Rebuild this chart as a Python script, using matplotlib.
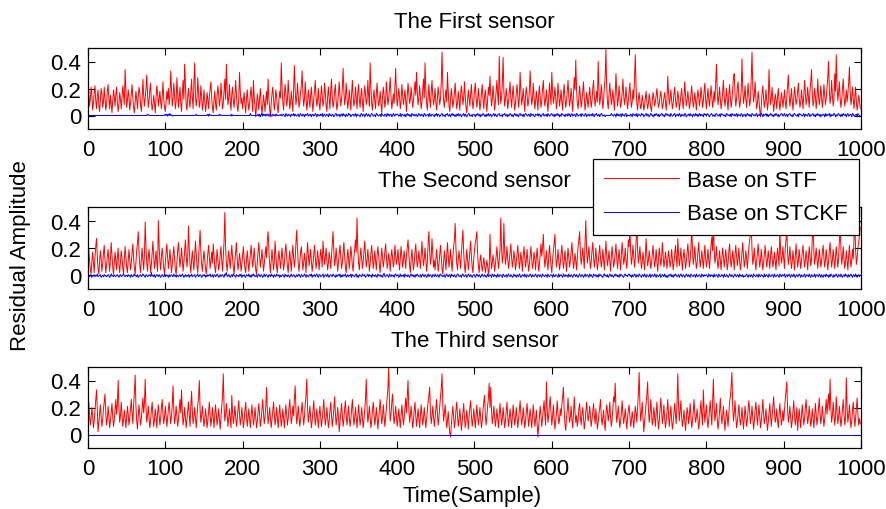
import numpy as np
import matplotlib
matplotlib.use("Agg")
import matplotlib.pyplot as plt

plt.rcParams['font.family'] = ['Liberation Sans', 'DejaVu Sans']

titles = ["The First sensor", "The Second sensor", "The Third sensor"]
legend_labels = ["Base on STF", "Base on STCKF"]
x_label = "Time(Sample)"
y_label = "Residual Amplitude"
xticks = [0, 100, 200, 300, 400, 500, 600, 700, 800, 900, 1000]
yticks = [0, 0.2, 0.4]
ytick_labels = ["0", "0.2", "0.4"]

# residual amplitude of the STF filter, sensor 1
red1 = [
.26,.18,.07,.12,.21,.15,.04,.09,.17,.22,.11,.05,.14,.19,.08,.03,.12,.20,.16,.06,
.10,.21,.13,.04,.08,.18,.23,.12,.05,.15,.09,.02,.11,.19,.14,.07,.16,.21,.10,.03,
.08,.17,.12,.05,.13,.22,.15,.08,.34,.20,
.06,.11,.19,.14,.04,.09,.16,.23,.13,.06,.02,.10,.18,.12,.05,.14,.21,.17,.08,.03,
.12,.27,.15,.07,.13,.20,.30,.16,.06,.11,.19,.24,.10,.04,.08,.15,.09,.02,.13,.22,
.17,.07,.12,.18,.10,.05,.14,.25,.12,.06,
.03,.09,.18,.12,.20,.08,.15,.33,.19,.07,.12,.24,.14,.05,.10,.28,.17,.06,.13,.21,
.09,.03,.16,.26,.12,.38,.22,.08,.04,.14,.20,.11,.06,.18,.27,.13,.05,.24,.39,.15,
.07,.12,.28,.17,.06,.10,.22,.14,.04,.09,
.19,.11,.03,.08,.17,.12,.05,.14,.20,.25,.13,.06,.02,.11,.18,.09,.04,.15,.22,.16,
.07,.12,.24,.14,.05,.09,.18,.27,.12,.38,.20,.08,.13,.23,.10,.04,.16,.21,.11,.06,
.14,.26,.15,.07,.03,.12,.32,.18,.09,.13,
.05,.11,.17,.08,.02,.13,.19,.10,.04,.09,.15,.21,.12,.03,.26,.14,.06,-.01,.08,.16,
.11,.04,.13,.20,.09,.01,.07,.15,.10,.03,.12,.18,.08,.27,.13,.05,-.01,.09,.16,.21,
.12,.04,.10,.19,.14,.06,.02,.11,.18,.13,
.39,.22,.10,.04,.14,.23,.16,.07,.12,.26,.15,.05,.09,.18,.11,.03,.20,.37,.19,.08,
.13,.24,.15,.06,.10,.17,.22,.33,.16,.07,.12,.25,.14,.04,.09,.19,.13,.06,.15,.21,
.10,.03,.12,.18,.26,.14,.07,.11,.20,.09,
.04,.13,.22,.15,.07,.11,.24,.17,.08,.03,.14,.21,.12,.05,.19,.27,.13,.06,.10,.18,
.23,.11,.04,.09,.16,.25,.14,.07,.12,.20,.35,.18,.08,.13,.24,.15,.05,.10,.19,.12,
.04,.16,.26,.14,.07,.11,.21,.13,.05,.17,
.23,.12,.06,.15,.20,.10,.03,.14,.22,.16,.08,.12,.26,.15,.07,.39,.21,.09,.04,.13,
.19,.11,.05,.16,.24,.13,.07,.11,.18,.09,.02,.14,.21,.15,.06,.10,.25,.17,.08,.12,
.20,.28,.14,.05,.10,.16,.09,.21,.35,.17,
.07,.12,.20,.14,.05,.10,.23,.16,.08,.13,.19,.11,.03,.15,.24,.17,.09,.12,.21,.13,
.06,.11,.18,.25,.15,.32,.17,.08,.13,.22,.14,.05,.10,.19,.27,.13,.39,.20,.09,.04,
.14,.23,.12,.06,.17,.26,.15,.08,.12,.20,
.10,.04,.13,.21,.15,.08,.12,.25,.47,.22,.11,.06,.14,.19,.10,.32,.18,.07,.03,.12,
.20,.14,.06,.10,.17,.24,.13,.05,.09,.18,.12,.04,.15,.22,.16,.08,.13,.25,.14,.06,
.02,.11,.19,.13,.07,.16,.23,.12,.05,.10,
.18,.24,.14,.06,.11,.20,.13,.04,.09,.17,.23,.12,.05,.14,.19,.10,.03,.12,.21,.15,
.29,.16,.07,.12,.22,.14,.04,.10,.18,.26,.15,.08,.44,.20,.09,.13,.24,.43,.18,.07,
.12,.20,.14,.05,.10,.17,.25,.13,.06,.15,
.22,.12,.04,.09,.16,.23,.14,.06,.13,.32,.18,.08,.12,.20,.11,.03,.14,.21,.15,.07,
.10,.19,.33,.17,.08,.12,.24,.14,.05,.10,.18,.12,.04,.15,.22,.13,.06,.11,.20,.26,
.14,.07,.12,.19,.10,.03,.13,.24,.16,.08,
.32,.18,.09,.13,.21,.14,.05,.11,.24,.15,.07,.12,.19,.10,.04,.16,.23,.13,.06,.10,
.18,.26,.14,.07,.12,.20,.11,.03,.15,.28,.19,.41,.20,.09,.05,.13,.22,.14,.06,.11,
.18,.25,.13,.04,.09,.17,.12,.06,.14,.21,
.13,.06,.11,.20,.26,.14,.07,.12,.18,.10,.40,.19,.08,.13,.23,.15,.05,.11,.21,.28,
.49,.22,.10,.05,.14,.24,.16,.08,.12,.19,.11,.04,.15,.31,.18,.07,.12,.22,.14,.06,
.10,.17,.27,.15,.08,.13,.21,.12,.05,.11,
.18,.24,.13,.06,.10,.19,.12,.27,.45,.21,.09,.04,.12,.17,.10,.05,.08,.15,.11,.04,
.07,.13,.18,.10,.05,.09,.16,.12,.06,.03,.11,.17,.13,.07,.10,.15,.20,.12,.06,.09,
.14,.18,.11,.05,.08,.13,.17,.10,.04,.12,
.29,.17,.08,.12,.19,.11,.05,.09,.16,.21,.12,.06,.10,.18,.13,.04,.09,.15,.20,.11,
.05,.14,.25,.15,.07,.11,.18,.12,.05,.09,.16,.22,.13,.06,.10,.17,.11,.04,.13,.19,
.14,.07,.12,.21,.15,.06,.10,.18,.24,.12,
.05,.13,.20,.12,.07,.15,.22,.14,.06,.11,.18,.10,.24,.38,.19,.08,.13,.21,.12,.05,
.10,.17,.26,.14,.07,.12,.20,.11,.04,.15,.23,.13,.06,.11,.19,.28,.31,.16,.07,.12,
.21,.25,.13,.06,.10,.18,.42,.20,.09,.14,
.22,.12,.06,.15,.24,.14,.07,.12,.28,.47,.21,.10,.15,.25,.13,.05,.09,.18,.12,.04,
-.01,.08,.16,.22,.13,.06,.11,.19,.12,.04,.10,.34,.18,.08,.13,.21,.11,.03,.09,.16,
.12,.05,.14,.20,.11,.04,.09,.17,.13,.06,
.12,.19,.10,.05,.14,.22,.30,.16,.07,.12,.20,.11,.04,.13,.21,.15,.08,.11,.18,.24,
.13,.06,.10,.19,.12,.05,.15,.26,.17,.08,.12,.21,.13,.06,.18,.25,.34,.16,.07,.11,
.20,.14,.05,.12,.27,.15,.08,.13,.22,.14,
.06,.12,.23,.15,.08,.13,.20,.28,.40,.19,.09,.14,.26,.15,.07,.12,.31,.18,.45,.22,
.11,.17,.25,.13,.06,.11,.20,.27,.14,.07,.12,.19,.10,.16,.24,.36,.18,.08,.13,.21,
.12,.05,.14,.21,.10,.04,.09,.15,.11,.05,
]

# residual amplitude of the STF filter, sensor 2
red2 = [
.08,.19,.12,.04,.01,.10,.17,.09,.02,.13,.21,.27,.14,.05,.01,.09,.18,.12,.03,.08,
.16,.22,.11,.02,.07,.14,.19,.10,.03,.12,.24,.15,.06,.01,.09,.17,.11,.04,.13,.20,
.08,.02,.10,.18,.13,.05,.01,.12,.21,.14,
.06,.02,.11,.19,.12,.04,.09,.16,.23,.13,.05,.01,.10,.18,.24,.32,.17,.07,.02,.12,
.20,.11,.04,.15,.39,.21,.09,.03,.13,.19,.10,.02,.08,.16,.25,.14,.05,.11,.18,.09,
.03,.40,.22,.10,.04,.14,.20,.12,.05,.01,
.09,.17,.23,.13,.05,.11,.19,.10,.02,.08,.15,.21,.12,.04,.01,.10,.18,.24,.14,.06,
.12,.20,.11,.03,.09,.17,.26,.15,.06,.13,.36,.19,.08,.02,.11,.18,.10,.04,.14,.25,
.16,.07,.02,.12,.21,.33,.17,.08,.03,.10,
.18,.12,.05,.01,.09,.16,.22,.13,.05,.11,.17,.09,.23,.14,.06,.02,.10,.19,.12,.04,
.08,.15,.21,.11,.03,.13,.25,.46,.20,.09,.03,.11,.18,.12,.05,.14,.22,.13,.06,.01,
.10,.17,.24,.12,.04,.09,.16,.11,.03,.08,
.15,.21,.12,.05,.02,.11,.18,.10,.03,.09,.16,.22,.13,.06,.12,.20,.11,.04,.01,.10,
.17,.24,.14,.06,.11,.19,.12,.03,.08,.15,.21,.13,.26,.32,.18,.08,.02,.11,.19,.12,
.04,.10,.25,.15,.06,.02,.12,.18,.11,.05,
.13,.20,.12,.04,.09,.17,.23,.14,.06,.02,.11,.18,.10,.03,.14,.22,.13,.06,.12,.24,
.33,.19,.08,.03,.10,.17,.21,.12,.04,.09,.16,.11,.02,.13,.24,.15,.07,.12,.19,.10,
.03,.08,.15,.22,.13,.05,.10,.18,.12,.04,
.11,.19,.14,.06,.25,.16,.08,.13,.20,.11,.04,.09,.17,.12,.05,.14,.23,.32,.18,.07,
.12,.20,.11,.03,.10,.16,.22,.13,.05,.09,.17,.24,.14,.06,.02,.11,.19,.13,.05,.12,
.21,.15,.07,.03,.13,.19,.26,.17,.42,.20,
.09,.04,.13,.20,.12,.05,.10,.18,.25,.14,.06,.11,.19,.12,.03,.08,.16,.22,.13,.05,
.10,.18,.11,.04,.14,.21,.15,.07,.02,.12,.20,.13,.06,.11,.17,.23,.14,.05,.09,.16,
.11,.03,.13,.19,.12,.06,.10,.22,.15,.08,
.12,.19,.10,.04,.13,.21,.14,.06,.11,.18,.12,.05,.15,.20,.26,.16,.07,.02,.12,.19,
.11,.04,.09,.17,.23,.13,.06,.10,.18,.12,.05,.14,.25,.15,.07,.12,.20,.11,.03,.09,
.24,.32,.18,.08,.13,.27,.16,.06,.11,.04,
.12,.19,.11,.03,.08,.15,.22,.13,.05,.01,.10,.18,.12,.04,.14,.24,.15,.06,.11,.19,
.10,.03,.13,.21,.26,.38,.20,.09,.04,.12,.18,.11,.05,.16,.24,.33,.17,.07,.02,.11,
.19,.12,.04,.10,.17,.25,.14,.06,.02,.12,
.18,.24,.27,.32,.16,.07,.02,.10,.15,.09,.03,.07,.13,.08,.02,.06,.11,.07,.01,.05,
.30,.14,.05,.09,.15,.10,.03,.08,.14,.21,.12,.05,.11,.19,.42,.20,.09,.14,.38,.18,
.08,.13,.21,.12,.05,.10,.17,.23,.13,.06,
.11,.18,.12,.04,.09,.16,.22,.13,.05,.10,.17,.11,.03,.14,.21,.13,.06,.11,.19,.10,
.03,.08,.15,.21,.12,.05,.09,.17,.12,.04,.13,.20,.11,.03,.08,.16,.23,.14,.20,.30,
.15,.06,.11,.18,.10,.04,.13,.22,.14,.07,
.02,.11,.18,.23,.30,.15,.06,.11,.19,.12,.04,.09,.16,.22,.13,.05,.10,.18,.11,.03,
.12,.20,.13,.06,.11,.17,.24,.14,.05,.09,.16,.11,.04,.13,.21,.26,.32,.17,.08,.13,
.20,.12,.05,.24,.40,.19,.09,.14,.21,.12,
.05,.10,.18,.24,.14,.06,.12,.20,.11,.04,.09,.16,.22,.13,.06,.11,.19,.12,.04,.14,
.25,.15,.07,.12,.18,.10,.03,.13,.21,.14,.06,.10,.17,.23,.13,.05,.11,.19,.12,.04,
.15,.24,.16,.08,.12,.20,.11,.05,.14,.26,
.21,.36,.18,.08,.13,.22,.14,.06,.12,.25,.38,.19,.09,.14,.21,.12,.05,.10,.17,.11,
.04,.13,.27,.15,.07,.11,.18,.12,.05,.09,.16,.22,.13,.06,.11,.19,.10,.03,.12,.20,
.14,.07,.12,.24,.15,.06,.10,.17,.12,.05,
.11,.18,.13,.06,.10,.19,.12,.04,.09,.16,.22,.13,.06,.27,.16,.07,.12,.20,.11,.04,
.13,.19,.12,.05,.10,.17,.23,.14,.06,.11,.20,.36,.19,.08,.13,.21,.12,.05,.09,.16,
.24,.14,.06,.11,.18,.12,.05,.14,.22,.13,
.06,.11,.19,.12,.05,.14,.22,.28,.18,.40,.20,.09,.13,.21,.12,.05,.10,.18,.11,.04,
.13,.20,.14,.06,.12,.19,.11,.04,.09,.17,.23,.13,.06,.11,.18,.12,.04,.15,.22,.14,
.07,.12,.20,.11,.04,.09,.16,.24,.14,.06,
.11,.18,.12,.05,.13,.21,.26,.30,.37,.19,.08,.12,.20,.11,.04,.10,.17,.23,.13,.06,
.11,.19,.12,.04,.09,.16,.22,.13,.06,.11,.18,.12,.05,.14,.21,.13,.06,.10,.17,.11,
.04,.13,.20,.14,.07,.34,.18,.09,.13,.21,
.12,.05,.20,.26,.33,.17,.08,.13,.21,.12,.05,.10,.18,.11,.04,.14,.23,.14,.06,.11,
.19,.12,.05,.10,.17,.22,.13,.06,.11,.18,.12,.04,.13,.21,.14,.07,.12,.28,.35,.18,
.08,.13,.20,.12,.05,.11,.19,.13,.06,.10,
.17,.22,.13,.06,.11,.19,.12,.04,.10,.18,.24,.14,.06,.11,.19,.12,.05,.13,.21,.14,
.06,.12,.25,.38,.19,.08,.13,.21,.12,.05,.10,.18,.11,.04,.14,.22,.13,.06,.11,.19,
.12,.28,.40,.19,.08,.13,.20,.24,.29,.35,
]

# residual amplitude of the STF filter, sensor 3
red3 = [
.17,.24,.15,.07,.12,.20,.14,.05,.10,.18,.25,.33,.19,.02,.09,.16,.22,.13,.06,.11,
.19,.24,.30,.16,.07,.12,.21,.14,.05,.10,.17,.23,.13,.06,.11,.19,.26,.15,.22,.40,
.20,.09,.14,.24,.15,.06,.11,.18,.12,.05,
.13,.21,.15,.07,.12,.19,.26,.16,.08,.22,.31,.44,.21,.10,.04,.14,.22,.15,.07,.12,
.20,.27,.16,.23,.41,.20,.09,.14,.21,.13,.05,.10,.18,.24,.14,.06,.11,.19,.13,.05,
.15,.22,.14,.07,.12,.20,.26,.15,.08,.13,
.21,.14,.06,.12,.19,.24,.15,.08,.14,.22,.36,.18,.08,.13,.21,.14,.06,.11,.19,.26,
.16,.33,.17,.07,.12,.20,.13,.05,.11,.18,.24,.14,.06,.21,.32,.17,.08,.13,.20,.12,
.05,.14,.22,.27,.40,.19,.09,.14,.21,.13,
.06,.11,.19,.13,.05,.10,.17,.24,.14,.06,.12,.20,.13,.05,.15,.22,.14,.07,.12,.19,
.11,.04,.13,.21,.28,.45,.21,.10,.15,.23,.14,.06,.12,.19,.12,.05,.29,.17,.08,.13,
.21,.14,.06,.11,.18,.25,.15,.07,.12,.20,
.13,.05,.10,.18,.24,.14,.06,.12,.19,.12,.05,.14,.22,.15,.07,.12,.20,.13,.05,.10,
.17,.23,.14,.06,.11,.19,.26,.16,.08,.13,.21,.35,.18,.08,.13,.20,.12,.05,.11,.18,
.24,.15,.07,.12,.20,.13,.05,.14,.22,.14,
.06,.11,.19,.12,.05,.14,.22,.15,.07,.12,.20,.26,.16,.08,.13,.21,.14,.26,.36,.19,
.08,.13,.21,.14,.06,.11,.18,.24,.15,.07,.13,.22,.29,.41,.20,.09,.14,.21,.13,.05,
.10,.18,.25,.15,.07,.12,.19,.12,.05,.14,
.21,.14,.06,.11,.19,.26,.15,.07,.12,.20,.13,.05,.10,.17,.24,.14,.06,.12,.19,.28,
.16,.07,.12,.20,.13,.02,.09,.17,.23,.14,.06,.11,.19,.25,.15,.07,.13,.21,.14,.06,
.11,.18,.26,.15,.07,.12,.20,.13,.05,.14,
.22,.15,.07,.12,.20,.13,.05,.11,.19,.26,.41,.20,.09,.14,.21,.13,.05,.10,.18,.24,
.15,.07,.12,.20,.13,.04,.11,.19,.26,.16,.08,.13,.22,.14,.06,.12,.20,.27,.34,.49,
.22,.10,.15,.24,.30,.17,.08,.13,.21,.14,
.06,.12,.19,.12,.05,.14,.22,.15,.07,.12,.20,.27,.16,.28,.40,.20,.09,.14,.21,.13,
.05,.10,.18,.24,.14,.06,.12,.19,.12,.05,.14,.22,.15,.07,.12,.20,.13,.05,.11,.18,
.24,.29,.35,.17,.08,.13,.21,.14,.06,.12,
.19,.26,.15,.07,.13,.21,.28,.34,.45,.22,.10,.15,.22,.13,.05,.10,.17,.08,.01,-.02,
.07,.14,.21,.13,.05,.10,.18,.24,.14,.06,.11,.19,.12,.03,.09,.16,.23,.13,.05,.10,
.18,.12,.04,.13,.20,.25,.14,.06,.11,.19,
.12,.05,.14,.22,.15,.07,.12,.20,.13,.05,.10,.18,.24,.29,.15,.07,.13,.21,.27,.38,
.20,.35,.18,.08,.13,.21,.14,.06,.11,.19,.12,.05,.14,.23,.15,.07,.12,.20,.13,.05,
.10,.17,.24,.14,.06,.12,.19,.12,.05,.14,
.22,.15,.07,.12,.20,.13,.05,.11,.18,.25,.15,.07,.12,.20,.13,.05,.10,.17,.23,.14,
.06,.12,.19,.12,.05,.14,.22,.14,.06,.11,.18,.09,-.02,.06,.13,.21,.14,.06,.12,.19,
.25,.15,.07,.39,.20,.09,.14,.22,.28,.16,
.07,.13,.22,.12,.04,.10,.16,.25,.15,.08,.11,.19,.14,.22,.28,.35,.18,.08,.03,.12,
.18,.27,.16,.09,.13,.21,.11,.05,.15,.28,.17,.09,.14,.06,.10,.19,.23,.13,.07,.15,
.20,.12,.04,.09,.17,.24,.16,.10,.14,.21,
.13,.06,.11,.17,.23,.14,.08,.19,.12,.04,.09,.15,.20,.26,.14,.07,.12,.18,.09,.03,
.14,.22,.17,.10,.15,.24,.13,.06,.11,.20,.28,.24,.38,.19,.09,.14,.21,.13,.05,.10,
.16,.25,.15,.08,.13,.19,.11,.04,.12,.18,
.22,.14,.06,.10,.17,.12,.05,.13,.21,.16,.09,.21,.30,.46,.22,.10,.16,.24,.13,.02,
.09,.17,.23,.30,.39,.19,.09,.15,.26,.16,.07,.11,.20,.13,.06,.16,.24,.12,.04,.10,
.18,.27,.17,.08,.13,.22,.12,.05,.10,.17,
.26,.15,.06,.13,.21,.11,.04,.09,.16,.23,.14,.08,.24,.45,.21,.10,.17,.25,.13,.06,
.11,.18,.10,.03,.12,.20,.16,.08,.14,.23,.13,.05,.10,.17,.26,.15,.09,.13,.19,.11,
.04,.10,.18,.25,.14,.07,.33,.19,.09,.15,
.22,.12,.05,.11,.18,.25,.15,.07,.24,.41,.21,.10,.15,.23,.12,.04,.09,.17,.27,.16,
.08,.13,.21,.12,.03,.10,.18,.13,.06,.15,.24,.28,.36,.46,.22,.10,.16,.25,.14,.05,
.09,.16,.22,.13,.07,.12,.20,.11,.04,.13,
.21,.14,.06,.11,.19,.25,.16,.08,.13,.21,.12,.04,.10,.18,.24,.15,.07,.14,.22,.13,
.05,.10,.17,.26,.15,.08,.12,.19,.11,.03,.09,.16,.23,.14,.06,.13,.21,.28,.17,.09,
.12,.19,.11,.05,.14,.23,.15,.07,.11,.18,
.10,.18,.26,.32,.39,.19,.09,.14,.21,.13,.05,.10,.18,.25,.15,.07,.12,.20,.03,.11,
.19,.12,.05,.14,.22,.15,.07,.12,.20,.26,.16,.08,.13,.21,.14,.06,.11,.19,.12,.05,
.14,.23,.15,.07,.12,.20,.27,.16,.08,.13,
.21,.14,.06,.11,.19,.26,.15,.22,.30,.18,.41,.20,.09,.14,.24,.15,.07,.13,.28,.17,
.08,.13,.21,.14,.06,.11,.19,.26,.15,.07,.12,.42,.20,.09,.14,.22,.13,.05,.10,.18,
.24,.14,.06,.12,.19,.27,.15,.07,.12,.08,
]

# residual amplitude of the STCKF filter, sensor 1
blue1 = [
0,0,0,0,0,0,0,0,0,0,0,0,0,0,0,0,0,0,0,0,0,0,0,0,0,0,0,0,0,0,0,0,0,0,0,0,0,0,0,0,0,0,0,0,0,0,0,0,0,0,
0,0,0,0,0,0,0,0,0,0,0,0,0,0,0,0,0,0,0,0,0,0,0,0,0,0,0,.01,.005,0,0,0,0,0,0,0,0,0,0,0,0,0,0,0,0,0,0,0,0,0,
.01,0,.01,-.005,.01,0,.015,0,.005,-.005,0,0,0,0,0,0,0,0,0,0,0,0,0,0,0,0,0,0,0,0,0,0,0,0,0,0,0,0,0,0,.01,0,0,0,0,0,0,0,0,0,
0,0,0,0,0,.01,-.005,.01,0,.005,0,0,0,0,0,0,0,0,0,0,.01,0,.005,0,0,0,0,0,0,0,0,0,0,0,0,.01,-.005,.005,0,0,0,0,0,0,0,0,0,0,0,0,
0,0,0,0,0,0,0,0,0,0,.015,0,0,0,0,0,0,0,0,0,.01,-.005,.01,-.01,.005,.015,-.005,.01,0,.01,-.005,.01,0,.01,-.005,.005,.015,0,-.005,.01,0,0,.01,-.005,.01,0,0,0,.005,0,
.01,-.005,.005,.01,0,-.01,.015,.005,-.005,.01,0,.005,-.01,.01,.005,0,.015,-.005,.01,0,-.005,.005,.01,-.01,.005,.015,0,-.005,.01,.005,-.01,.01,0,.005,.015,-.005,.005,0,.01,-.01,.005,.01,-.005,0,.015,.005,-.01,.01,0,.005,
-.005,.01,0,.015,-.01,.005,.01,-.005,0,.01,.005,-.01,.015,0,.005,-.005,.01,.005,-.01,0,.01,.015,-.005,.005,0,.01,-.01,.005,.01,-.005,.015,0,.005,-.01,.01,0,-.005,.015,.005,.01,-.01,0,.005,.01,-.005,.005,.015,-.01,.01,0,
.005,0,-.01,.01,.015,-.005,.005,.01,-.01,0,.015,.005,-.005,.01,0,-.01,.005,.015,.01,-.005,0,.005,-.01,.015,.01,0,-.005,.005,.01,-.01,.015,.005,0,-.005,.01,.005,-.01,.015,0,.01,-.005,.005,.01,-.01,0,.015,.005,-.005,.01,.005,
.01,.005,-.005,0,.015,-.01,.01,.005,0,-.005,.01,-.01,.005,.015,0,.01,-.005,.005,-.01,.015,.005,0,.01,-.005,.005,.01,-.01,0,.015,.005,-.005,.01,0,.005,-.01,.015,.01,-.005,0,.005,.01,-.01,.015,0,-.005,.01,.005,0,-.01,.01,
0,.015,-.005,.01,.005,-.01,0,.01,.015,-.005,.005,0,-.01,.01,.005,.015,-.005,0,.01,-.01,.005,.015,0,.01,-.005,.005,-.01,.01,0,.015,-.005,.005,.01,-.01,0,.005,.015,-.005,.01,0,-.01,.005,.01,.015,-.005,0,.005,-.01,.01,.005,
.005,-.01,.01,0,.015,.005,-.005,.01,-.01,.005,0,.015,.01,-.005,.005,-.01,.01,0,.015,-.005,.005,.01,-.01,0,.005,.015,-.005,.01,0,-.01,.005,.01,.015,-.005,0,.005,-.01,.01,.005,.015,0,-.005,.01,-.01,.005,0,.015,.01,-.005,.005,
-.01,.005,.015,0,.01,-.005,.005,-.01,.01,.015,0,.005,-.005,.01,-.01,.005,.015,.01,0,-.005,.01,.005,-.01,.015,0,.005,.01,-.005,-.01,.01,.005,0,.015,-.005,.01,.005,-.01,0,.01,.015,-.005,.005,0,.01,-.01,.015,.005,-.005,0,.01,
.015,0,.005,-.01,.01,-.005,.005,.015,0,.01,-.01,.005,-.005,.015,.01,0,.005,-.01,.01,.005,-.005,.015,0,.01,-.01,.005,.015,-.005,0,.01,.005,-.01,.015,.01,-.005,0,.005,.01,-.01,.015,.005,0,-.005,.01,.015,-.01,.005,0,.01,-.005,
.005,.01,-.005,.015,0,-.01,.01,.005,.015,-.005,0,.01,-.01,.005,.015,.01,-.005,0,.005,-.01,0,0,0,0,0,0,0,.015,.005,0,-.005,.01,.005,-.01,.015,0,.01,-.005,.005,.01,-.01,.015,0,.005,-.005,.01,.015,-.01,.005,0,
0,-.005,.01,.005,-.01,.015,.005,0,.01,-.005,.015,-.01,.005,.01,0,-.005,.015,.005,.01,-.01,0,.005,.015,-.005,.01,.005,-.01,0,.015,.01,-.005,.005,-.01,.01,0,.015,.005,-.005,.01,-.01,.005,0,.015,.01,-.005,.005,-.01,.01,.015,0,
.01,0,.005,-.01,.015,.005,-.005,0,.01,.015,-.01,.005,0,.01,-.005,.015,.005,-.01,.01,0,.005,-.005,.015,.01,-.01,0,.005,.01,-.005,.015,0,.005,-.01,.01,.005,-.005,.015,0,.01,-.01,.005,.015,-.005,.01,0,.005,-.01,.015,.005,.01,
-.005,.015,.01,0,-.01,.005,.01,.015,-.005,0,.005,-.01,.01,.015,.005,-.005,0,.01,-.01,.015,.005,.01,0,-.005,.005,-.01,.015,.01,0,.005,-.005,.01,-.01,.015,.005,0,.01,-.005,.005,.015,-.01,.01,0,.005,-.005,.015,.01,-.01,.005,0,
.01,-.01,.005,.015,0,.01,-.005,.005,-.01,.015,.01,0,.005,-.005,.01,.015,-.01,.005,0,.01,-.005,.015,.005,-.01,.01,0,.005,.015,-.005,.01,-.01,.005,0,.015,.01,-.005,.005,-.01,.01,0,.015,.005,-.005,.01,-.01,0,.005,.015,.01,-.005,
.005,.015,-.005,0,.01,-.01,.005,.01,.015,0,-.005,.005,-.01,.01,.015,.005,0,-.005,.01,-.01,.015,.005,.01,0,-.005,.005,.015,-.01,.01,0,.005,-.005,.015,.01,-.01,.005,0,.01,.015,-.005,.005,-.01,.01,0,.015,.005,-.005,.01,-.01,.005,
0,.01,.005,-.01,.015,-.005,.01,0,.005,.015,-.01,.01,-.005,.005,0,.015,.01,-.01,.005,-.005,.01,.015,0,.005,-.01,.01,-.005,.015,.005,0,.01,-.01,.005,.015,-.005,0,.01,.005,-.01,.015,.01,-.005,0,.005,.01,-.01,.015,.005,0,-.005,
]

# residual amplitude of the STCKF filter, sensor 2
blue2 = [
-.005,0,-.01,.005,-.005,-.015,0,-.005,.005,-.01,0,-.005,.01,-.01,-.005,0,.005,-.015,-.005,0,-.01,.005,-.005,0,-.01,-.005,.005,0,-.015,-.005,.01,-.005,0,-.01,.005,-.005,-.01,0,.005,-.005,-.015,0,.005,-.01,-.005,0,.01,-.005,-.01,0,
0,-.01,.005,-.005,0,-.015,.005,-.005,-.01,0,.01,-.005,0,-.01,.005,-.015,-.005,0,.005,-.01,-.005,.01,0,-.005,-.015,.005,0,-.01,-.005,.005,0,-.01,.02,-.005,0,-.01,.005,-.015,-.005,.005,0,-.01,.005,-.005,-.015,0,.005,-.005,-.01,.01,
-.01,.005,-.005,0,-.015,.005,-.01,0,.005,-.005,-.01,.01,-.005,0,-.015,.005,-.005,-.01,0,.005,-.01,-.005,.01,0,-.015,-.005,.005,-.01,0,-.005,.005,-.015,0,-.005,.01,-.01,-.005,0,.005,-.015,-.005,0,.01,-.01,-.005,.005,0,-.015,-.005,.005,
-.005,.005,-.015,0,-.01,.005,-.005,0,.01,-.01,-.005,.005,-.015,0,.005,-.01,-.005,.01,0,-.015,-.005,.005,-.01,0,.005,-.005,-.015,.01,0,.02,-.005,-.01,.005,0,-.015,-.005,.005,-.01,.01,0,-.005,-.015,.005,-.005,0,-.01,.005,-.005,.01,-.015,
0,-.005,.005,-.01,-.015,.005,0,-.005,.01,-.01,0,-.015,.005,-.005,.01,0,-.01,-.005,.005,-.015,0,.01,-.005,-.01,.005,0,-.015,-.005,.01,-.01,0,.005,-.005,-.015,.005,0,-.01,.01,-.005,0,-.015,.005,-.005,-.01,.01,0,-.005,.005,-.015,0,
-.01,0,.005,-.005,-.015,.01,-.005,0,-.01,.005,-.005,-.015,0,.01,-.01,-.005,.005,0,-.015,-.005,.005,-.01,0,.01,-.005,-.015,.005,0,-.01,-.005,.01,0,-.015,.005,-.005,-.01,0,.005,-.005,.01,-.015,0,-.005,.005,-.01,0,.01,-.005,-.015,.005,
.005,-.01,-.005,0,.01,-.015,-.005,.005,0,-.01,.01,-.005,-.015,0,.005,-.005,-.01,.01,0,-.005,-.015,.005,-.01,0,.005,-.005,.01,-.015,0,-.01,.005,-.005,0,.01,-.015,-.005,.005,-.01,0,-.005,.01,-.015,.005,0,-.005,-.01,.005,.01,-.015,0,
-.015,.005,0,-.005,-.01,.01,0,-.005,.005,-.015,-.005,0,.01,-.01,.005,-.005,0,-.015,.01,-.005,0,-.01,.005,-.005,-.015,.01,0,-.005,.005,-.01,0,-.015,.005,.015,-.005,-.01,0,.005,-.005,-.015,.01,0,-.01,.005,-.005,0,-.015,.005,.01,-.005,
0,.005,-.015,-.005,.01,-.01,0,-.005,.005,-.015,.01,-.005,0,-.01,.005,-.005,-.015,0,.01,-.005,.005,-.01,0,-.015,.005,-.005,.01,0,-.01,-.005,.005,-.015,0,.01,-.005,-.01,.005,0,-.015,-.005,.01,-.01,0,.005,-.005,-.015,.005,0,-.01,.01,
-.005,-.01,.005,0,-.015,.005,.01,-.005,0,-.01,-.005,.005,-.015,0,.01,-.005,-.01,.005,0,-.015,.01,-.005,0,-.01,.005,-.005,-.015,0,.01,.005,-.01,-.005,0,-.015,.005,.01,-.005,-.01,0,.005,-.015,-.005,.01,0,-.01,.005,-.005,-.015,0,.005,
.005,-.015,-.005,.01,0,-.01,.005,-.005,-.015,0,.01,-.005,-.01,.005,0,-.015,-.005,.01,-.01,0,.005,-.005,-.015,.01,0,-.01,.005,-.005,0,-.015,.01,-.005,-.01,.005,0,-.005,-.015,.01,0,-.01,-.005,.005,-.015,0,.01,-.005,-.01,.005,0,-.015,
-.01,.01,-.005,0,-.015,.005,-.005,-.01,.01,0,-.015,-.005,.005,0,-.01,.01,-.005,-.015,.005,0,-.01,-.005,.01,0,-.015,.005,-.005,-.01,0,.01,-.005,-.015,.005,0,-.01,.005,-.005,-.015,.01,0,-.005,-.01,.005,0,-.015,.01,-.005,-.01,0,.005,
0,-.015,.01,-.005,-.01,.005,0,-.005,-.015,.01,-.01,0,.005,-.005,-.015,.01,0,-.01,.005,-.005,0,-.015,.01,-.005,-.01,.005,0,-.015,-.005,.01,0,-.01,.005,-.005,-.015,0,.01,-.005,-.01,.005,0,-.015,-.005,.01,-.01,0,.005,-.005,-.015,.01,
-.005,.005,-.01,-.015,.01,0,-.005,.005,-.01,0,-.015,.01,-.005,.005,0,-.01,-.015,.005,.01,-.005,0,-.01,.005,-.015,-.005,.01,0,-.01,.005,-.005,-.015,0,.01,-.005,.005,-.01,0,-.015,.01,-.005,.005,0,-.01,-.015,.005,.01,-.005,0,-.01,.005,
.01,-.005,0,-.015,.005,-.01,-.005,.01,0,-.015,.005,-.005,-.01,.01,0,-.005,-.015,.005,0,-.01,.01,-.005,-.015,.005,0,-.01,-.005,.01,-.015,0,.005,-.005,-.01,.01,0,-.015,.005,-.005,-.01,0,.01,-.015,-.005,.005,0,-.01,.01,-.005,-.015,0,
-.015,0,.005,-.005,.01,-.01,0,-.015,.005,-.005,.01,0,-.01,-.005,.005,-.015,0,.01,-.005,-.01,.005,0,-.015,-.005,.01,0,-.01,.005,-.005,-.015,.01,0,-.005,-.01,.005,0,-.015,.01,-.005,-.01,0,.005,-.005,-.015,.01,0,-.01,.005,-.005,0,
.005,-.005,-.015,.01,0,-.01,.005,-.005,0,-.015,.01,-.01,0,.005,-.005,-.015,.01,0,-.01,-.005,.005,0,-.015,.01,-.005,-.01,.005,0,-.015,-.005,.01,0,-.01,.005,-.005,-.015,0,.01,-.005,-.01,.005,0,-.015,.01,-.005,0,-.01,.005,-.015,-.005,
-.01,0,.01,-.005,-.015,.005,0,-.01,.005,-.005,-.015,.01,0,-.005,-.01,.005,0,-.015,.01,-.005,-.01,.005,0,-.005,-.015,.01,-.01,0,.005,-.005,-.015,.01,0,-.01,-.005,.005,0,-.015,.01,-.005,-.01,0,.005,-.005,-.015,.01,0,-.01,.005,-.005,
0,.01,-.015,-.005,.005,-.01,0,.01,-.005,-.015,.005,0,-.01,.01,-.005,-.015,0,.005,-.01,-.005,.01,0,-.015,.005,-.005,-.01,0,.01,-.015,-.005,.005,0,-.01,.01,-.005,-.015,.005,0,-.01,-.005,.01,-.015,0,.005,-.005,-.01,.01,0,-.015,.005,
-.005,-.015,.005,0,-.01,.01,-.005,0,-.015,.005,-.01,.01,0,-.005,-.015,.005,-.01,0,.01,-.005,-.015,.005,0,-.01,.01,-.005,-.015,0,.005,-.01,.01,-.005,0,-.015,.005,-.01,0,.01,-.005,-.015,.005,0,-.01,.01,-.005,-.015,0,.005,-.01,0,
]

# residual amplitude of the STCKF filter, sensor 3 (flat)
blue3 = [
0,0,0,0,0,0,0,0,0,0,0,0,0,0,0,0,0,0,0,0,0,0,0,0,0,0,0,0,0,0,0,0,0,0,0,0,0,0,0,0,0,0,0,0,0,0,0,0,0,0,0,0,0,0,0,0,0,0,0,0,0,0,0,0,0,0,0,0,0,0,0,0,0,0,0,0,0,0,0,0,0,0,0,0,0,0,0,0,0,0,0,0,0,0,0,0,0,0,0,0,
0,0,0,0,0,0,0,0,0,0,0,0,0,0,0,0,0,0,0,0,0,0,0,0,0,0,0,0,0,0,0,0,0,0,0,0,0,0,0,0,0,0,0,0,0,0,0,0,0,0,0,0,0,0,0,0,0,0,0,0,0,0,0,0,0,0,0,0,0,0,0,0,0,0,0,0,0,0,0,0,0,0,0,0,0,0,0,0,0,0,0,0,0,0,0,0,0,0,0,0,
0,0,0,0,0,0,0,0,0,0,0,0,0,0,0,0,0,0,0,0,0,0,0,0,0,0,0,0,0,0,0,0,0,0,0,0,0,0,0,0,0,0,0,0,0,0,0,0,0,0,0,0,0,0,0,0,0,0,0,0,0,0,0,0,0,0,0,0,0,0,0,0,0,0,0,0,0,0,0,0,0,0,0,0,0,0,0,0,0,0,0,0,0,0,0,0,0,0,0,0,
0,0,0,0,0,0,0,0,0,0,0,0,0,0,0,0,0,0,0,0,0,0,0,0,0,0,0,0,0,0,0,0,0,0,0,0,0,0,0,0,0,0,0,0,0,0,0,0,0,0,0,0,0,0,0,0,0,0,0,0,0,0,0,0,0,0,0,0,0,0,0,0,0,0,0,0,0,0,0,0,0,0,0,0,0,0,0,0,0,0,0,0,0,0,0,0,0,0,0,0,
0,0,0,0,0,0,0,0,0,0,0,0,0,0,0,0,0,0,0,0,0,0,0,0,0,0,0,0,0,0,0,0,0,0,0,0,0,0,0,0,0,0,0,0,0,0,0,0,0,0,0,0,0,0,0,0,0,0,0,0,0,0,0,0,0,0,0,0,0,0,0,0,0,0,0,0,0,0,0,0,0,0,0,0,0,0,0,0,0,0,0,0,0,0,0,0,0,0,0,0,
0,0,0,0,0,0,0,0,0,0,0,0,0,0,0,0,0,0,0,0,0,0,0,0,0,0,0,0,0,0,0,0,0,0,0,0,0,0,0,0,0,0,0,0,0,0,0,0,0,0,0,0,0,0,0,0,0,0,0,0,0,0,0,0,0,0,0,0,0,0,0,0,0,0,0,0,0,0,0,0,0,0,0,0,0,0,0,0,0,0,0,0,0,0,0,0,0,0,0,0,
0,0,0,0,0,0,0,0,0,0,0,0,0,0,0,0,0,0,0,0,0,0,0,0,0,0,0,0,0,0,0,0,0,0,0,0,0,0,0,0,0,0,0,0,0,0,0,0,0,0,0,0,0,0,0,0,0,0,0,0,0,0,0,0,0,0,0,0,0,0,0,0,0,0,0,0,0,0,0,0,0,0,0,0,0,0,0,0,0,0,0,0,0,0,0,0,0,0,0,0,
0,0,0,0,0,0,0,0,0,0,0,0,0,0,0,0,0,0,0,0,0,0,0,0,0,0,0,0,0,0,0,0,0,0,0,0,0,0,0,0,0,0,0,0,0,0,0,0,0,0,0,0,0,0,0,0,0,0,0,0,0,0,0,0,0,0,0,0,0,0,0,0,0,0,0,0,0,0,0,0,0,0,0,0,0,0,0,0,0,0,0,0,0,0,0,0,0,0,0,0,
0,0,0,0,0,0,0,0,0,0,0,0,0,0,0,0,0,0,0,0,0,0,0,0,0,0,0,0,0,0,0,0,0,0,0,0,0,0,0,0,0,0,0,0,0,0,0,0,0,0,0,0,0,0,0,0,0,0,0,0,0,0,0,0,0,0,0,0,0,0,0,0,0,0,0,0,0,0,0,0,0,0,0,0,0,0,0,0,0,0,0,0,0,0,0,0,0,0,0,0,
0,0,0,0,0,0,0,0,0,0,0,0,0,0,0,0,0,0,0,0,0,0,0,0,0,0,0,0,0,0,0,0,0,0,0,0,0,0,0,0,0,0,0,0,0,0,0,0,0,0,0,0,0,0,0,0,0,0,0,0,0,0,0,0,0,0,0,0,0,0,0,0,0,0,0,0,0,0,0,0,0,0,0,0,0,0,0,0,0,0,0,0,0,0,0,0,0,0,0,0,
]

red_series = [red1, red2, red3]
blue_series = [blue1, blue2, blue3]

W, H = 887, 510
fig = plt.figure(figsize=(W / 100, H / 100), dpi=100)

# axes boxes in pixels: left, top, right, bottom
boxes = [(88, 49, 861, 130), (88, 208, 861, 290), (88, 368, 861, 449)]

FS = 16
handles = None
for box, title, red, blue in zip(boxes, titles, red_series, blue_series):
    l, t, r, b = box
    ax = fig.add_axes([l / W, 1 - b / H, (r - l) / W, (b - t) / H])
    lr, = ax.plot(np.arange(len(red)), red, color='#ff0000', lw=0.7)
    lb, = ax.plot(np.arange(len(blue)), blue, color='#0000ff', lw=0.7)
    if handles is None:
        handles = [lr, lb]
    ax.set_xlim(0, 1000)
    ax.set_ylim(-0.1, 0.5)
    ax.set_xticks(xticks)
    ax.set_xticklabels([str(v) for v in xticks])
    ax.set_yticks(yticks)
    ax.set_yticklabels(ytick_labels)
    ax.tick_params(direction='in', top=True, right=True, length=5, width=0.8,
                   labelsize=FS, colors='black')
    ax.tick_params(axis='x', pad=7)
    ax.tick_params(axis='y', pad=5)
    for s in ax.spines.values():
        s.set_linewidth(0.9)
        s.set_color('black')
    ax.set_title(title, fontsize=FS, pad=15)

fig.text(21 / W, 1 - 256 / H, y_label, rotation=90, ha='center', va='center', fontsize=FS)
fig.text(472 / W, 1 - 497 / H, x_label, ha='center', va='center', fontsize=FS)

leg = fig.legend(handles, legend_labels, loc='upper right',
                 bbox_to_anchor=(859 / W, 1 - 160 / H), borderaxespad=0,
                 frameon=True, fancybox=False, edgecolor='black', framealpha=1,
                 fontsize=FS, handlelength=3.4, handletextpad=0.35,
                 borderpad=0.5, labelspacing=0.55)
leg.get_frame().set_linewidth(0.9)

fig.savefig('out.png', dpi=100)
